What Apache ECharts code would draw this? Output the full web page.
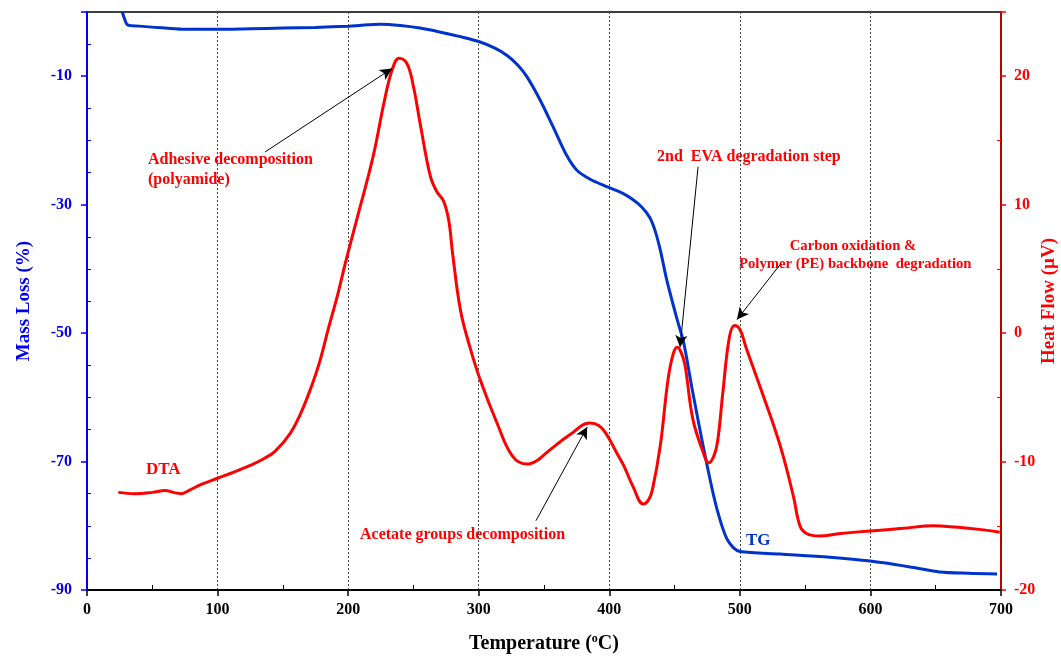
<!DOCTYPE html>
<html>
<head>
<meta charset="utf-8">
<script src="https://cdn.jsdelivr.net/npm/echarts@6/dist/echarts.min.js"></script>
<style>html,body{margin:0;padding:0;background:#fff}#c{width:1061px;height:657px}</style>
</head>
<body>
<div id="c"></div>
<script>
// Temperature (°C) and mass loss (%) for TG curve
const tgTemp = [27,29,31,40,60,75,100,125,150,175,200,215,225,240,255,270,285,300,312,322,330,337,347,357,367,375,385,398,410,418,425,431,435,439,444,452,457,464,472,480,485,490,495,500,531,569,600,633,653,675,697];
const tgMass = [0,-1.2,-2.0,-2.2,-2.5,-2.7,-2.7,-2.6,-2.5,-2.4,-2.2,-2.0,-1.9,-2.1,-2.5,-3.1,-3.8,-4.6,-5.6,-6.8,-8.3,-10.1,-13.7,-17.9,-22.2,-24.6,-26.0,-27.2,-28.2,-29.2,-30.4,-32.0,-34.0,-37.0,-41.7,-47.9,-51.5,-59.3,-67.7,-75.4,-79.2,-82.0,-83.4,-84.0,-84.4,-84.9,-85.5,-86.5,-87.2,-87.4,-87.5];
// Temperature (°C) and heat flow (µV) for DTA curve
const dtaTemp = [24,37,50,60,66,72,79,87,100,113,125,135,144,155,163,171,178,185,192,198,207,219,228,234,239,245,250,255,263,268,273,277,280,286,293,301,314,326,337,345,352,370,385,392,398,405,411,418,426,430,433,439,445,449,452,455,458,464,472,476,480,483,487,492,496,500,505,518,531,541,546,551,561,577,600,625,648,665,685,699];
const dtaHeat = [-12.4,-12.5,-12.4,-12.25,-12.4,-12.5,-12.2,-11.8,-11.3,-10.8,-10.3,-9.8,-9.2,-7.9,-6.4,-4.4,-2.3,0.4,3.0,5.5,9.0,13.7,18.2,20.6,21.4,21.0,19.2,16.4,12.2,11.0,10.3,8.8,6.2,1.8,-1.0,-3.6,-7.0,-9.6,-10.2,-9.9,-9.3,-7.9,-7.0,-7.2,-7.9,-9.2,-10.3,-11.9,-13.3,-13.0,-12.2,-8.8,-3.6,-1.6,-1.1,-1.5,-2.5,-6.7,-9.3,-10.1,-9.6,-8.4,-4.6,-0.3,0.6,0.3,-1.2,-4.9,-8.8,-12.7,-15.0,-15.6,-15.8,-15.6,-15.4,-15.2,-15.0,-15.1,-15.3,-15.5];
// Annotation arrows: [tailTemp, tailHeat, headTemp, headHeat]
const arrows = [
  [136.3, 14.1, 233.6, 20.6],
  [343.9, -14.6, 383.1, -7.3],
  [468.0, 12.95, 454.2, -1.1],
  [530.8, 5.33, 497.8, 1.05]
];
const xTicks = {min: 0, max: 700, interval: 100};
const leftTicks = {min: -90, max: 0, interval: 20};
const rightTicks = {min: -20, max: 25, interval: 10};

const FONT = '"Liberation Serif", "Times New Roman", serif';
const BLUE = '#0033cc';
const LBLUE = '#0000ee';
const RED = '#ff0000';

const chart = echarts.init(document.getElementById('c'), null, {renderer: 'canvas'});

function txt(x, y, t, color, size, align) {
  return {type: 'text', x: x, y: y, silent: true,
    style: {text: t, fill: color, font: 'bold ' + size + 'px ' + FONT, align: align || 'left', verticalAlign: 'middle'}};
}
// helper axis that only draws inward minor ticks on the same scale
function minorOnlyY(t, pos, color, split) {
  return {type: 'value', min: t.min, max: t.max, interval: t.interval, position: pos,
    axisLine: {show: false, onZero: false}, axisLabel: {show: false}, splitLine: {show: false},
    axisTick: {show: false, inside: true},
    minorTick: {show: true, splitNumber: split, length: 4, lineStyle: {color: color, width: 1}}};
}

chart.setOption({
  animation: false,
  backgroundColor: '#fff',
  grid: {left: 87, right: 60, top: 12, bottom: 67, containLabel: false, outerBoundsMode: 'none',
    show: true, borderColor: '#000', borderWidth: 1.5, backgroundColor: 'transparent'},
  xAxis: [{
    type: 'value', min: xTicks.min, max: xTicks.max, interval: xTicks.interval, position: 'bottom',
    name: '{a|Temperature (}{s|o}{a|C)}', nameLocation: 'middle', nameGap: 43, nameMoveOverlap: false,
    nameTextStyle: {rich: {
      a: {fontFamily: FONT, fontWeight: 'bold', fontSize: 20, color: '#000'},
      s: {fontFamily: FONT, fontWeight: 'bold', fontSize: 12, color: '#000', verticalAlign: 'top', padding: [0, 0, 10, 0]}
    }},
    axisLine: {onZero: false, lineStyle: {color: '#000', width: 2}},
    axisTick: {show: true, inside: false, length: 6, lineStyle: {color: '#000', width: 1.5}},
    minorTick: {show: false},
    axisLabel: {fontFamily: FONT, fontWeight: 'bold', fontSize: 16, color: '#000', margin: 12},
    splitLine: {show: true, lineStyle: {color: '#444', type: [2, 2], width: 1}}
  }, {
    type: 'value', min: xTicks.min, max: xTicks.max, interval: xTicks.interval, position: 'bottom',
    axisLine: {show: false, onZero: false}, axisLabel: {show: false}, splitLine: {show: false},
    axisTick: {show: false, inside: true},
    minorTick: {show: true, splitNumber: 2, length: 5, lineStyle: {color: '#000', width: 1}}
  }],
  yAxis: [
    {
      type: 'value', min: leftTicks.min, max: leftTicks.max, interval: leftTicks.interval, position: 'left',
      name: 'Mass Loss (%)', nameLocation: 'middle', nameGap: 53, nameRotate: 90, nameMoveOverlap: false,
      nameTextStyle: {fontFamily: FONT, fontWeight: 'bold', fontSize: 19, color: LBLUE},
      axisLine: {show: true, onZero: false, lineStyle: {color: LBLUE, width: 2}},
      axisTick: {show: true, length: 6, lineStyle: {color: LBLUE, width: 1.5}},
      minorTick: {show: false},
      axisLabel: {fontFamily: FONT, fontWeight: 'bold', fontSize: 16, color: LBLUE, margin: 15,
        formatter: v => (v === 0 ? '' : String(v))},
      splitLine: {show: false}
    },
    {
      type: 'value', min: rightTicks.min, max: rightTicks.max, interval: rightTicks.interval, position: 'right',
      name: 'Heat Flow (µV)', nameLocation: 'middle', nameGap: 39, nameRotate: 90, nameMoveOverlap: false,
      nameTextStyle: {fontFamily: FONT, fontWeight: 'bold', fontSize: 19, color: RED},
      axisLine: {show: true, onZero: false, lineStyle: {color: '#c00000', width: 2}},
      axisTick: {show: true, length: 5, lineStyle: {color: RED, width: 1.5}},
      minorTick: {show: false},
      axisLabel: {fontFamily: FONT, fontWeight: 'bold', fontSize: 16, color: RED, margin: 13,
        formatter: v => (v === 25 ? '' : String(v))},
      splitLine: {show: false}
    },
    minorOnlyY(leftTicks, 'left', LBLUE, 4),
    minorOnlyY(rightTicks, 'right', RED, 2)
  ],
  series: [
    {
      name: 'TG', type: 'line', xAxisIndex: 0, yAxisIndex: 0, smooth: 0.3, showSymbol: false, symbol: 'none',
      data: tgTemp.map((t, i) => [t, tgMass[i]]),
      lineStyle: {color: BLUE, width: 3}, z: 3
    },
    {
      name: 'DTA', type: 'line', xAxisIndex: 0, yAxisIndex: 1, smooth: 0.4, showSymbol: false, symbol: 'none',
      data: dtaTemp.map((t, i) => [t, dtaHeat[i]]),
      lineStyle: {color: RED, width: 3}, z: 4,
      markLine: {
        silent: true, symbol: ['none', 'arrow'], symbolSize: [9, 12],
        label: {show: false},
        lineStyle: {color: '#000', width: 1, type: 'solid'},
        data: arrows.map(a => [{coord: [a[0], a[1]]}, {coord: [a[2], a[3]]}])
      }
    }
  ],
  graphic: [
    txt(148, 160, 'Adhesive decomposition', RED, 16),
    txt(148, 180, '(polyamide)', RED, 16),
    txt(146, 470, 'DTA', RED, 17),
    txt(360, 535, 'Acetate groups decomposition', RED, 16),
    txt(657, 157, '2nd  EVA degradation step', RED, 16),
    txt(853, 246, 'Carbon oxidation &', RED, 14.7, 'center'),
    txt(739, 264, 'Polymer (PE) backbone  degradation', RED, 14.7),
    txt(746, 541, 'TG', BLUE, 17)
  ]
});
</script>
</body>
</html>
